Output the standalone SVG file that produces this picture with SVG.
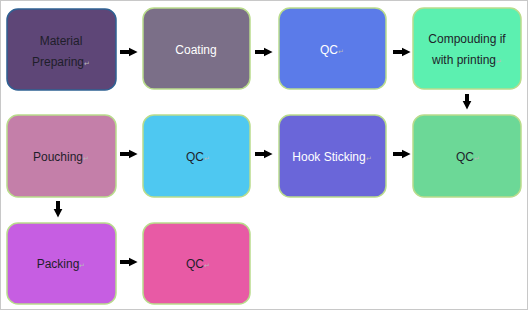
<svg xmlns="http://www.w3.org/2000/svg" width="528" height="310" viewBox="0 0 528 310">
<style>
.box{stroke:#b9dc8c;stroke-width:1.5}
.t{font-family:"Liberation Sans",Arial,sans-serif;font-size:12px;text-anchor:middle}
.d{fill:#1e1e2a}
.w{fill:#ffffff}
.pm{font-size:7px;fill:#b8b8b8}
.arr{stroke:#000;stroke-width:4;fill:none}
</style>
<defs>
<marker id="ah" viewBox="0 0 4 4" refX="1" refY="2" markerWidth="2.2" markerHeight="2.4" orient="auto" markerUnits="strokeWidth">
<path d="M0,0 L4,2 L0,4 Z" fill="#000"/>
</marker>
</defs>
<rect x="0.5" y="0.5" width="527" height="309" fill="#fff" stroke="#c8c8c8"/>
<g id="connectors">
<line class="arr" x1="120" y1="52" x2="131" y2="52" marker-end="url(#ah)"/>
<line class="arr" x1="255" y1="52" x2="266" y2="52" marker-end="url(#ah)"/>
<line class="arr" x1="393" y1="52" x2="404" y2="52" marker-end="url(#ah)"/>
<line class="arr" x1="467" y1="94" x2="467" y2="103" marker-end="url(#ah)"/>
<line class="arr" x1="120" y1="154" x2="131" y2="154" marker-end="url(#ah)"/>
<line class="arr" x1="255" y1="154" x2="266" y2="154" marker-end="url(#ah)"/>
<line class="arr" x1="393" y1="154" x2="404" y2="154" marker-end="url(#ah)"/>
<line class="arr" x1="58" y1="201" x2="58" y2="211" marker-end="url(#ah)"/>
<line class="arr" x1="120" y1="262" x2="131" y2="262" marker-end="url(#ah)"/>
</g>
<g id="n1"><rect class="box" x="7" y="9" width="109" height="81" rx="11" fill="#5e4677" style="stroke:#2f6193"/>
<text class="t d" x="61" y="45">Material</text><text class="t d" x="61" y="66">Preparing<tspan class="pm">↵</tspan></text></g>
<g id="n2"><rect class="box" x="143" y="8" width="107" height="81" rx="11" fill="#7b6f88"/>
<text class="t w" x="196" y="54">Coating</text></g>
<g id="n3"><rect class="box" x="279" y="8" width="107" height="81" rx="11" fill="#5b7be9"/>
<text class="t w" x="332" y="54">QC<tspan class="pm">↵</tspan></text></g>
<g id="n4"><rect class="box" x="413" y="8" width="108" height="81" rx="11" fill="#5cf0b0"/>
<text class="t d" x="467" y="43">Compouding if</text><text class="t d" x="467" y="64">with printing<tspan class="pm">↵</tspan></text></g>
<g id="n5"><rect class="box" x="7" y="115" width="109" height="82" rx="11" fill="#c47fa9"/>
<text class="t d" x="61" y="161">Pouching<tspan class="pm">↵</tspan></text></g>
<g id="n6"><rect class="box" x="143" y="115" width="107" height="82" rx="11" fill="#4ec8f1"/>
<text class="t d" x="198" y="161">QC<tspan class="pm">↵</tspan></text></g>
<g id="n7"><rect class="box" x="279" y="115" width="107" height="82" rx="11" fill="#6a66d9"/>
<text class="t w" x="332" y="161">Hook Sticking<tspan class="pm">↵</tspan></text></g>
<g id="n8"><rect class="box" x="413" y="115" width="108" height="82" rx="11" fill="#6cd897"/>
<text class="t d" x="468" y="161">QC<tspan class="pm">↵</tspan></text></g>
<g id="n9"><rect class="box" x="7" y="223" width="109" height="81" rx="11" fill="#c65ee2"/>
<text class="t d" x="61" y="268">Packing<tspan class="pm">↵</tspan></text></g>
<g id="n10"><rect class="box" x="143" y="223" width="107" height="81" rx="11" fill="#e85aa5"/>
<text class="t d" x="198" y="268">QC<tspan class="pm">↵</tspan></text></g>
</svg>
